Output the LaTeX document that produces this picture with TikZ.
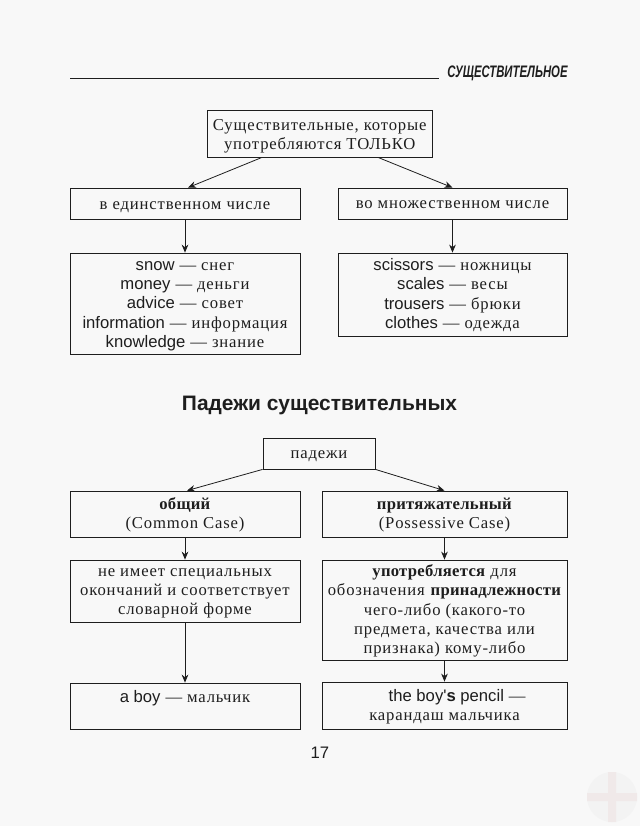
\documentclass[tikz,border=0pt]{standalone}
\usepackage{fontspec}
\usepackage{xcolor}
\setmainfont{Liberation Serif}[LetterSpace=5,BoldFeatures={LetterSpace=1.6}]
\newfontfamily\lat{Liberation Sans}
\newcommand{\en}[1]{{\lat #1}}
\definecolor{paper}{HTML}{F8F8F8}
\definecolor{ink}{HTML}{1E1E1E}
\definecolor{wmgrey}{HTML}{F3F3F3}
\definecolor{wmred}{HTML}{F0E9E9}
\usetikzlibrary{arrows.meta}
\tikzset{
  every node/.style={text=ink},
  pbox/.style={draw=ink,line width=.6pt,inner sep=0pt},
  ptext/.style={inner sep=0pt,align=center,font=\fontsize{12.5}{14.5}\selectfont},
  arr/.style={draw=ink,line width=.6pt,-{Stealth[length=6pt,width=5pt]}}
}
% name, cx, cy, w, h, text shift (px, downwards), text
\newcommand{\bx}[7]{\node[pbox,minimum width=#4*.75pt,minimum height=#5*.75pt] (#1) at (#2,#3) {};
  \node[ptext,yshift=-#6*.75pt] (#1-text) at (#1) {#7};}
\begin{document}
\begin{tikzpicture}[x=.75pt,y=-.75pt]
\useasboundingbox[fill=paper] (0,0) rectangle (640,826);
\fill[wmgrey] (612,797) circle (25);
\fill[wmred] (608,772) rectangle (616,822) (587,793) rectangle (637,801);
\coordinate (ruleL) at (70,78.5); \coordinate (ruleR) at (439,78.5);
\draw[ink,line width=.8pt] (ruleL) -- (ruleR);
\node[xscale=.68,font=\fontsize{12.5}{14}\lat\bfseries\itshape] (head) at (507.5,73.5) {СУЩЕСТВИТЕЛЬНОЕ};
\bx{top}{319.75}{133.5}{224.5}{47}{3}{Существительные, которые\\употребляются ТОЛЬКО}
\bx{sg}{185}{203.5}{230}{31}{3.5}{в единственном числе}
\bx{pl}{452.5}{203.5}{229}{31}{1.5}{во множественном числе}
\bx{sgl}{185}{303.5}{230}{101}{2.5}{\en{snow} — снег\\\en{money} — деньги\\\en{advice} — совет\\\en{information} — информация\\\en{knowledge} — знание}
\bx{pll}{452.5}{294.5}{229}{83}{0.5}{\en{scissors} — ножницы\\\en{scales} — весы\\\en{trousers} — брюки\\\en{clothes} — одежда}
\node[font=\fontsize{15.7}{17}\lat\bfseries] (title) at (319.5,405) {Падежи существительных};
\bx{cases}{319}{453.5}{112}{31}{3}{падежи}
\bx{com}{185}{514}{230}{46}{1}{\textbf{общий}\\(Common Case)}
\bx{pos}{444.5}{514}{245}{46}{1}{\textbf{притяжательный}\\(Possessive Case)}
\bx{cd}{185}{591}{230}{62}{2.5}{не имеет специальных\\окончаний и соответствует\\словарной форме}
\bx{pd}{444.5}{610}{245}{100}{1}{\textbf{употребляется} для\\обозначения \textbf{принадлежности}\\чего-либо (какого-то\\предмета, качества или\\признака) кому-либо}
\bx{ce}{185}{706}{230}{46}{0}{\en{a boy} — мальчик\\\mbox{}}
\bx{pe}{444.5}{705.5}{245}{47}{1}{\hspace*{19pt}\en{the boy'\textbf{s} pencil} —\\карандаш мальчика}
\node[font=\fontsize{12.5}{14}\lat] (pg) at (320,752.5) {17};
\draw[arr] ([xshift=-57.75*.75pt]top.south) -- ([xshift=3*.75pt]sg.north);
\draw[arr] ([xshift=58.25*.75pt]top.south) -- (pl.north);
\draw[arr] (sg) -- (sgl);
\draw[arr] (pl) -- (pl|-pll.north);
\draw[arr] (cases.south west) -- ([xshift=2*.75pt]com.north);
\draw[arr] (cases.south east) -- (pos.north);
\draw[arr] (com) -- (cd);
\draw[arr] (pos) -- (pd);
\draw[arr] (cd) -- (ce);
\draw[arr] (pd) -- (pe);
\end{tikzpicture}
\end{document}
